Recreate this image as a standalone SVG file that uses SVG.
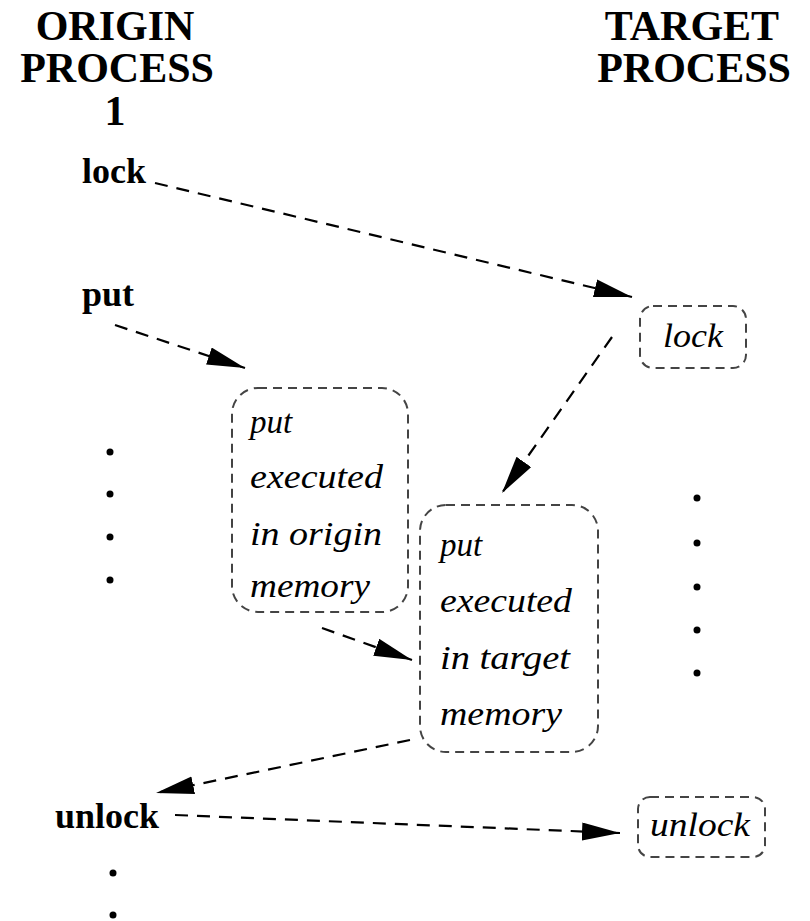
<svg xmlns="http://www.w3.org/2000/svg" width="810" height="921" viewBox="0 0 810 921">
<style>
.hdr{font-family:"Liberation Serif",serif;font-weight:bold;font-size:42px;fill:#000}
.lbl{font-family:"Liberation Serif",serif;font-weight:bold;font-size:36px;fill:#000}
.it{font-family:"Liberation Serif",serif;font-style:italic;font-size:33px;fill:#000}
.box{fill:none;stroke:#444;stroke-width:2;stroke-dasharray:9 6}
.arr{fill:none;stroke:#000;stroke-width:2.2;stroke-dasharray:13 9;marker-end:url(#ah)}
.dot{fill:#000}
</style>
<defs>
<marker id="ah" markerUnits="userSpaceOnUse" markerWidth="42" markerHeight="22" refX="38" refY="9" orient="auto">
<path d="M0,0 L38,9 L0,18 Z" fill="#000"/>
</marker>
</defs>
<rect width="810" height="921" fill="#fff"/>
<g id="headers">
<text class="hdr" x="115" y="40" text-anchor="middle">ORIGIN</text>
<text class="hdr" x="117" y="82" text-anchor="middle">PROCESS</text>
<text class="hdr" x="115" y="125" text-anchor="middle">1</text>
<text class="hdr" x="692" y="40" text-anchor="middle">TARGET</text>
<text class="hdr" x="694" y="82" text-anchor="middle">PROCESS</text>
</g>
<g id="origin-lock"><text class="lbl" x="82" y="183">lock</text></g>
<g id="origin-put"><text class="lbl" x="82" y="306">put</text></g>
<g id="origin-unlock"><text class="lbl" x="55" y="828">unlock</text></g>
<g id="origin-dots">
<circle class="dot" cx="110" cy="452" r="3.5"/>
<circle class="dot" cx="110" cy="494" r="3.5"/>
<circle class="dot" cx="110" cy="537" r="3.5"/>
<circle class="dot" cx="110" cy="580" r="3.5"/>
<circle class="dot" cx="113" cy="873" r="3.5"/>
<circle class="dot" cx="113" cy="915" r="3.5"/>
</g>
<g id="target-dots">
<circle class="dot" cx="697" cy="498" r="3.5"/>
<circle class="dot" cx="697" cy="543" r="3.5"/>
<circle class="dot" cx="697" cy="587" r="3.5"/>
<circle class="dot" cx="697" cy="630" r="3.5"/>
<circle class="dot" cx="697" cy="673" r="3.5"/>
</g>
<g id="target-lock">
<rect class="box" x="640" y="306" width="106" height="62" rx="13"/>
<text class="it" x="693" y="347" text-anchor="middle" textLength="60" lengthAdjust="spacingAndGlyphs">lock</text>
</g>
<g id="origin-put-box">
<rect class="box" x="232" y="388" width="176" height="224" rx="26"/>
<text class="it" x="250" y="433">put</text>
<text class="it" x="250" y="488" textLength="133" lengthAdjust="spacingAndGlyphs">executed</text>
<text class="it" x="250" y="545" textLength="132" lengthAdjust="spacingAndGlyphs">in origin</text>
<text class="it" x="250" y="597" textLength="120" lengthAdjust="spacingAndGlyphs">memory</text>
</g>
<g id="target-put-box">
<rect class="box" x="420" y="505" width="178" height="247" rx="26"/>
<text class="it" x="440" y="556">put</text>
<text class="it" x="440" y="612" textLength="132" lengthAdjust="spacingAndGlyphs">executed</text>
<text class="it" x="440" y="669" textLength="130" lengthAdjust="spacingAndGlyphs">in target</text>
<text class="it" x="440" y="725" textLength="122" lengthAdjust="spacingAndGlyphs">memory</text>
</g>
<g id="target-unlock">
<rect class="box" x="638" y="797" width="127" height="60" rx="12"/>
<text class="it" x="700" y="836" text-anchor="middle" textLength="100" lengthAdjust="spacingAndGlyphs">unlock</text>
</g>
<g id="connectors">
<path class="arr" d="M155,183 L632,297"/>
<path class="arr" d="M115,325 L245,368"/>
<path class="arr" d="M612,337 L502,493"/>
<path class="arr" d="M322,628 L412,660"/>
<path class="arr" d="M410,740 L156,793"/>
<path class="arr" d="M175,815 L620,833"/>
</g>
</svg>
